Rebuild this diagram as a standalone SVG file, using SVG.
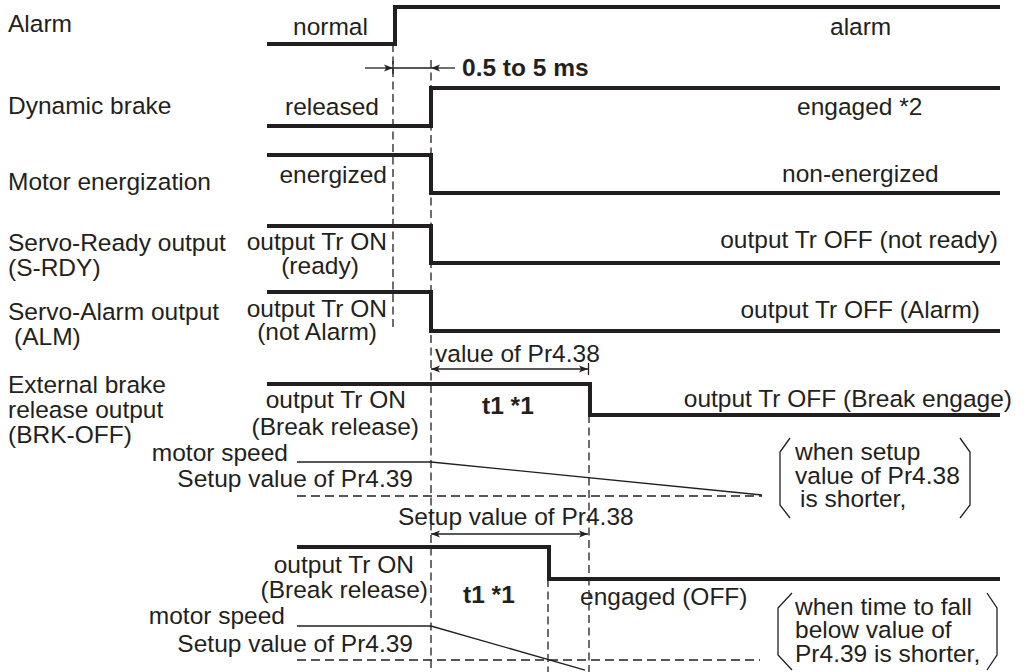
<svg xmlns="http://www.w3.org/2000/svg" width="1025" height="672" viewBox="0 0 1025 672">
<defs>
<style>
text{font-family:"Liberation Sans",Arial,Helvetica,sans-serif;font-size:24.5px;fill:#231f20}
.b{font-weight:bold}
.e{text-anchor:end}
.m{text-anchor:middle}
.sig{fill:none;stroke:#231f20;stroke-width:4;stroke-linejoin:miter;stroke-linecap:butt}
.thin{fill:none;stroke:#231f20;stroke-width:1.3}
.dv{fill:none;stroke:#231f20;stroke-width:1.3;stroke-dasharray:8 4.5}
.dh{fill:none;stroke:#231f20;stroke-width:1.3;stroke-dasharray:9 5}
.br{fill:none;stroke:#231f20;stroke-width:1.3}
</style>
<marker id="ah" viewBox="0 0 10 10" refX="10" refY="5" markerWidth="9" markerHeight="9" markerUnits="userSpaceOnUse" orient="auto-start-reverse">
<path d="M0,1 L10,5 L0,9 L2.5,5 Z" fill="#231f20"/>
</marker>
</defs>

<g id="labels">
<text x="8" y="32">Alarm</text>
<text x="8" y="114">Dynamic brake</text>
<text x="8" y="190">Motor energization</text>
<text x="8" y="251">Servo-Ready output</text>
<text x="8" y="276">(S-RDY)</text>
<text x="8" y="320">Servo-Alarm output</text>
<text x="14" y="345">(ALM)</text>
<text x="8" y="393">External brake</text>
<text x="8" y="418">release output</text>
<text x="8" y="443">(BRK-OFF)</text>
</g>

<g id="connectors">
<path class="dv" d="M393,44 V331"/>
<path class="dv" d="M431,60 V672"/>
<path class="dv" d="M589,415 V672"/>
<path class="dv" d="M548,579 V672"/>
<path class="thin" d="M393,61 V74"/>
<path class="thin" d="M365,68 H393" marker-end="url(#ah)"/>
<path class="thin" d="M393,68 H431"/>
<path class="thin" d="M455,68 H431" marker-end="url(#ah)"/>
<path class="thin" d="M431,369 H588" marker-start="url(#ah)" marker-end="url(#ah)"/>
<path class="thin" d="M588.5,363 V375"/>
<path class="thin" d="M431,534 H588" marker-start="url(#ah)" marker-end="url(#ah)"/>
<path class="thin" d="M297,462 H431 L762,495"/>
<path class="dh" d="M297,496 H762"/>
<path class="thin" d="M297,626 H431 L585,670"/>
<path class="dh" d="M297,660 H760"/>
</g>

<g id="alarm">
<path class="sig" d="M267,44 H395 V7 H1000"/>
<text x="293" y="35">normal</text>
<text x="830" y="35">alarm</text>
</g>

<g id="delay">
<text class="b" x="462" y="76">0.5 to 5 ms</text>
</g>

<g id="dynamic-brake">
<path class="sig" d="M267,126 H431 V88 H1000"/>
<text class="e" x="379" y="115">released</text>
<text x="797" y="115">engaged *2</text>
</g>

<g id="motor-energization">
<path class="sig" d="M267,155 H431 V193 H1000"/>
<text class="e" x="387" y="183">energized</text>
<text x="782" y="182">non-energized</text>
</g>

<g id="servo-ready">
<path class="sig" d="M267,226 H431 V263 H1000"/>
<text class="e" x="387" y="250">output Tr ON</text>
<text class="m" x="320" y="274">(ready)</text>
<text class="e" x="998" y="248">output Tr OFF (not ready)</text>
</g>

<g id="servo-alarm">
<path class="sig" d="M267,292 H431 V331 H1000"/>
<text class="e" x="387" y="317">output Tr ON</text>
<text class="e" x="377" y="340">(not Alarm)</text>
<text class="e" x="980" y="318">output Tr OFF (Alarm)</text>
</g>

<g id="brk-off-1">
<text x="435" y="362">value of Pr4.38</text>
<path class="sig" d="M267,384 H590 V415 H1000"/>
<text class="e" x="406" y="408">output Tr ON</text>
<text class="e" x="419" y="435">(Break release)</text>
<text class="b" x="482" y="414">t1 *1</text>
<text class="e" x="1012" y="407">output Tr OFF (Break engage)</text>
<text class="e" x="288" y="461">motor speed</text>
<text class="e" x="413" y="487">Setup value of Pr4.39</text>
</g>

<g id="note-1">
<path class="br" d="M790,438 L780,452 V505 L790,518"/>
<path class="br" d="M960,438 L970,452 V505 L960,518"/>
<text x="795" y="460">when setup</text>
<text x="795" y="484">value of Pr4.38</text>
<text x="800" y="507">is shorter,</text>
</g>

<g id="brk-off-2">
<text x="398" y="525">Setup value of Pr4.38</text>
<path class="sig" d="M297,547 H549 V579 H1000"/>
<text class="e" x="414" y="573">output Tr ON</text>
<text class="e" x="428" y="598">(Break release)</text>
<text class="b" x="463" y="603">t1 *1</text>
<text x="580" y="605">engaged (OFF)</text>
<text class="e" x="285" y="624">motor speed</text>
<text class="e" x="413" y="652">Setup value of Pr4.39</text>
</g>

<g id="note-2">
<path class="br" d="M792,593 L778,608 V655 L792,670"/>
<path class="br" d="M987,593 L997,608 V655 L987,670"/>
<text x="795" y="615">when time to fall</text>
<text x="795" y="638">below value of</text>
<text x="795" y="662">Pr4.39 is shorter,</text>
</g>
</svg>
